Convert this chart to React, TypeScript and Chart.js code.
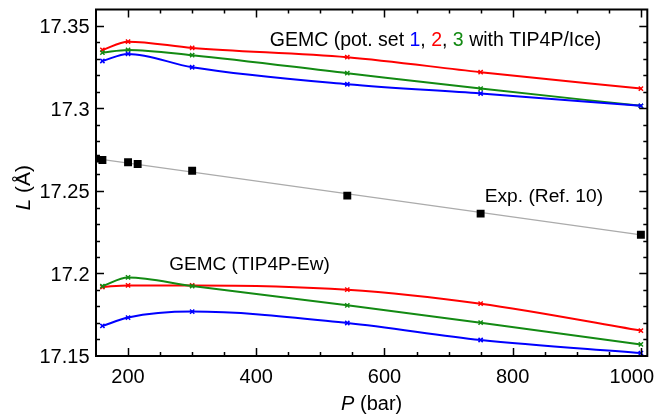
import React, { useEffect, useRef } from 'react';
import { Chart, registerables } from 'chart.js';
Chart.register(...registerables);

// GEMC pressures (bar)
const pressures = [160, 200, 300, 542, 750, 1000];
// TIP4P/Ice, potential sets 1 (blue), 2 (red), 3 (green)
const iceBlue = [17.3288, 17.3331, 17.325, 17.3147, 17.3091, 17.3016];
const iceRed = [17.3355, 17.3405, 17.3367, 17.3311, 17.322, 17.3121];
const iceGreen = [17.3339, 17.3355, 17.3323, 17.3214, 17.3121, 17.3016];
// TIP4P-Ew
const ewBlue = [17.1682, 17.1733, 17.1769, 17.17, 17.1597, 17.1518];
const ewRed = [17.1918, 17.1928, 17.1928, 17.1902, 17.1817, 17.1654];
const ewGreen = [17.1924, 17.1976, 17.1924, 17.1807, 17.1702, 17.157];
// Experiment (Ref. 10)
const expP = [150, 160, 200, 215, 300, 542, 750, 1000];
const expL = [17.2696, 17.2688, 17.2674, 17.2664, 17.2623, 17.2472, 17.2363, 17.2235];
// Linear fit through experiment
const fitP = [150, 1003];
const fitL = [17.2696, 17.2232];
// Axis ticks
const xMajor = [200, 400, 600, 800, 1000];
const xLabels = ['200', '400', '600', '800', '1000'];
const yMajor = [17.15, 17.2, 17.25, 17.3, 17.35];
const yLabels = ['17.15', '17.2', '17.25', '17.3', '17.35'];

const RED = '#ff0000';
const GREEN = '#138a13';
const BLUE = '#0000ff';
const FONT = '"Liberation Sans", Arial, Helvetica, sans-serif';

const pts = (xs: number[], ys: number[]) => xs.map((x, i) => ({ x, y: ys[i] }));

const gemc = (data: number[], color: string) => ({
  data: pts(pressures, data),
  borderColor: color,
  backgroundColor: color,
  borderWidth: 2,
  pointStyle: 'crossRot',
  pointRadius: 3,
  pointBorderWidth: 1.5,
  pointBorderColor: color,
  cubicInterpolationMode: 'monotone',
  order: 2,
});

const framePlugin = {
  id: 'frame',
  afterDraw(chart: any) {
    const { ctx, chartArea: a, scales } = chart;
    const xs = scales.x;
    const ys = scales.y;
    ctx.save();
    ctx.strokeStyle = '#000';
    ctx.fillStyle = '#000';
    ctx.lineWidth = 2;
    ctx.strokeRect(a.left, a.top, a.right - a.left, a.bottom - a.top);
    ctx.lineWidth = 1.5;
    ctx.beginPath();
    // x ticks (minor every 50, major at labels)
    for (let v = 200; v <= 1000; v += 50) {
      const px = Math.round(xs.getPixelForValue(v)) + 0.5;
      const len = v % 200 === 0 ? 8 : 4;
      ctx.moveTo(px, a.bottom);
      ctx.lineTo(px, a.bottom - len);
      ctx.moveTo(px, a.top);
      ctx.lineTo(px, a.top + len);
    }
    // y ticks (minor every 0.01)
    for (let k = 16; k <= 35; k++) {
      const v = 17 + k / 100;
      const py = Math.round(ys.getPixelForValue(v)) + 0.5;
      const len = k % 5 === 0 ? 8 : 4;
      ctx.moveTo(a.left, py);
      ctx.lineTo(a.left + len, py);
      ctx.moveTo(a.right, py);
      ctx.lineTo(a.right - len, py);
    }
    ctx.stroke();

    // tick labels
    ctx.font = `20px ${FONT}`;
    ctx.textBaseline = 'alphabetic';
    xMajor.forEach((v, i) => {
      const px = xs.getPixelForValue(v);
      const w = ctx.measureText(xLabels[i]).width;
      let left = px - w / 2;
      if (left + w > chart.width - 4) left = chart.width - 4 - w;
      ctx.textAlign = 'left';
      ctx.fillText(xLabels[i], left, a.bottom + 26.5);
    });
    ctx.textAlign = 'right';
    yMajor.forEach((v, i) => {
      const py = ys.getPixelForValue(v);
      ctx.fillText(yLabels[i], a.left - 6.5, py + 7.2);
    });

    // axis titles with italic variables
    const drawMixed = (parts: [string, string][], cx: number, y: number) => {
      let total = 0;
      const widths = parts.map(([t, f]) => {
        ctx.font = f;
        const w = ctx.measureText(t).width;
        total += w;
        return w;
      });
      let x = cx - total / 2;
      ctx.textAlign = 'left';
      parts.forEach(([t, f], i) => {
        ctx.font = f;
        ctx.fillText(t, x, y);
        x += widths[i];
      });
    };
    drawMixed([['P', `italic 20px ${FONT}`], [' (bar)', `20px ${FONT}`]], (a.left + a.right) / 2, a.bottom + 54);
    ctx.save();
    ctx.translate(30, (a.top + a.bottom) / 2 + 5);
    ctx.rotate(-Math.PI / 2);
    drawMixed([['L', `italic 21px ${FONT}`], [' (Å)', `21px ${FONT}`]], 0, 0);
    ctx.restore();

    // annotations
    const drawColored = (parts: [string, string][], x: number, y: number, size: number) => {
      ctx.font = `${size}px ${FONT}`;
      ctx.textAlign = 'left';
      parts.forEach(([t, c]) => {
        ctx.fillStyle = c;
        ctx.fillText(t, x, y);
        x += ctx.measureText(t).width;
      });
    };
    drawColored(
      [
        ['GEMC (pot. set ', '#000'],
        ['1', BLUE],
        [', ', '#000'],
        ['2', RED],
        [', ', '#000'],
        ['3', GREEN],
        [' with TIP4P/Ice)', '#000'],
      ],
      xs.getPixelForValue(421),
      ys.getPixelForValue(17.3379),
      19.5
    );
    drawColored([['Exp. (Ref. 10)', '#000']], xs.getPixelForValue(756.4), ys.getPixelForValue(17.2432), 19.2);
    drawColored([['GEMC (TIP4P-Ew)', '#000']], xs.getPixelForValue(264.4), ys.getPixelForValue(17.2021), 19);
    ctx.restore();
  },
};

export default function App() {
  const ref = useRef<HTMLCanvasElement | null>(null);
  useEffect(() => {
    if (!ref.current) return;
    const chart = new Chart(ref.current, {
      type: 'line',
      data: {
        datasets: [
          {
            data: pts(expP, expL),
            showLine: false,
            pointStyle: 'rect',
            pointRadius: 5.6,
            pointBorderWidth: 0,
            backgroundColor: '#000',
            borderColor: '#000',
            order: 0,
          } as any,
          {
            data: pts(fitP, fitL),
            borderColor: '#ababab',
            borderWidth: 1.3,
            pointRadius: 0,
            order: 1,
          },
          gemc(iceBlue, BLUE),
          gemc(iceGreen, GREEN),
          gemc(iceRed, RED),
          gemc(ewBlue, BLUE),
          gemc(ewGreen, GREEN),
          gemc(ewRed, RED),
        ] as any,
      },
      options: {
        responsive: false,
        maintainAspectRatio: false,
        animation: false,
        devicePixelRatio: 1,
        layout: { padding: { left: 96, right: 10.7, top: 9.5, bottom: 59 } },
        scales: {
          x: { type: 'linear', display: false, min: 150, max: 1010 },
          y: { type: 'linear', display: false, min: 17.15, max: 17.36 },
        },
        plugins: { legend: { display: false }, tooltip: { enabled: false } },
      } as any,
      plugins: [framePlugin],
    });
    return () => chart.destroy();
  }, []);
  return (
    <div style={{ position: 'fixed', left: 0, top: 0, width: 658, height: 415, background: '#fff' }}>
      <canvas ref={ref} width={658} height={415} />
    </div>
  );
}
